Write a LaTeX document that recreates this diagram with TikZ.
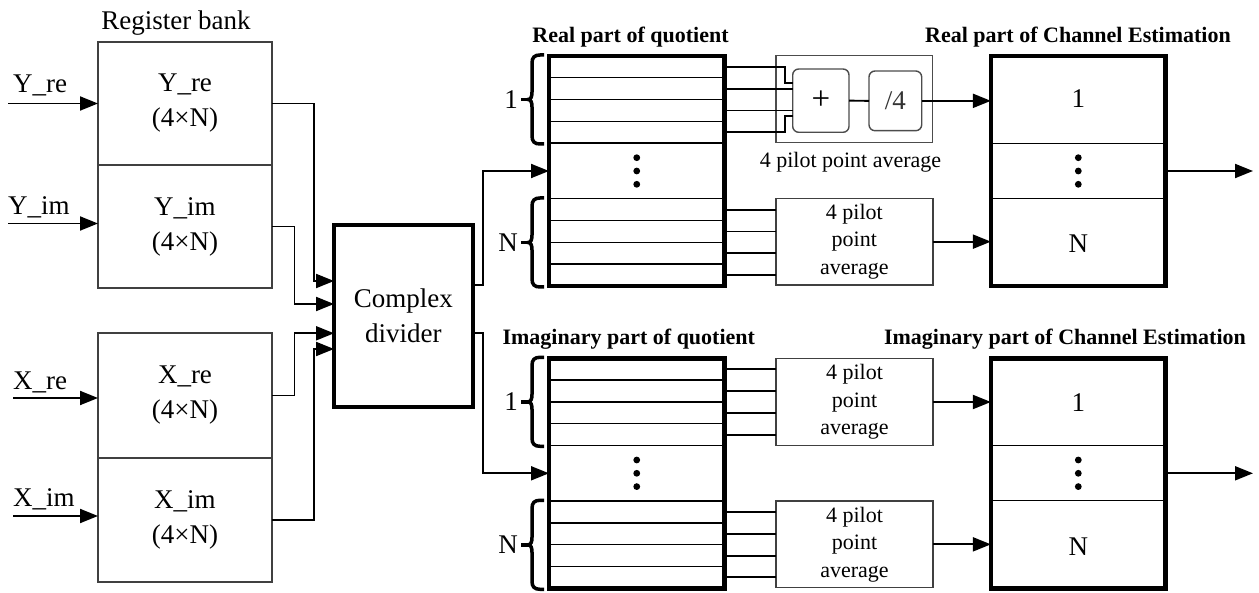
\documentclass[tikz,border=0pt]{standalone}
\usepackage{fontspec}
\setmainfont{Liberation Serif}
\usetikzlibrary{arrows.meta,calc}
\begin{document}
\begin{tikzpicture}[x=1pt,y=-1pt,
  big/.style={font=\fontsize{27}{35}\selectfont},
  small/.style={font=\fontsize{22}{27.5}\selectfont},
  ttl/.style={font=\fontsize{22}{26}\selectfont\bfseries},
  reg/.style={draw=black!75, line width=1.4pt, minimum width=174pt, align=center, big, inner sep=0pt, outer sep=0pt},
  thickbox/.style={draw, line width=4.5pt, outer sep=0pt, inner sep=0pt},
  conn/.style={line width=1.9pt},
  arr/.style={conn, -{Triangle[length=18pt,width=14pt]}},
  rowline/.style={line width=1.4pt},
  avg/.style={draw=black!75, line width=1.4pt, minimum width=157pt, align=center, small, inner sep=0pt, outer sep=0pt},
  rbox/.style={draw=black!70, line width=1.4pt, rounded corners=6pt, inner sep=0pt, outer sep=0pt, big},
  brc/.style={line width=3.5pt},
]
\useasboundingbox (0,0) rectangle (1259,593);

% ---------- register bank ----------
\node[big] (regt) at (176,23) {Register bank};
\node[reg, minimum height=123pt] (yre) at (185,103.5) {Y\_re\\(4×N)};
\node[reg, minimum height=123pt] (yim) at (185,226.5) {Y\_im\\(4×N)};
\node[reg, minimum height=125pt] (xre) at (185,395.5) {X\_re\\(4×N)};
\node[reg, minimum height=124pt] (xim) at (185,520) {X\_im\\(4×N)};

% input labels and arrows
\node[big, anchor=base west, inner sep=0pt] (lyre) at (13,93) {Y\_re};
\node[big, anchor=base west, inner sep=0pt] (lyim) at (8,215) {Y\_im};
\node[big, anchor=base west, inner sep=0pt] (lxre) at (13,390) {X\_re};
\node[big, anchor=base west, inner sep=0pt] (lxim) at (13,506.5) {X\_im};
\coordinate (yrein) at (8,103.5);
\coordinate (yimin) at (8,223.5);
\coordinate (xrein) at (13,398);
\coordinate (ximin) at (13,516);
\draw[arr] (yrein) -- (yrein -| yre.west);
\draw[arr] (yimin) -- (yimin -| yim.west);
\draw[arr] (xrein) -- (xrein -| xre.west);
\draw[arr] (ximin) -- (ximin -| xim.west);

% ---------- complex divider ----------
\node[draw, line width=3.5pt, minimum width=138.7pt, minimum height=182pt, big, align=center, outer sep=0pt, inner sep=0pt] (div) at (403.4,316) {Complex\\divider};
\draw[arr] (yre.east) -| (314,281) -- (div.west |- 0,281);
\draw[arr] (yim.east) -| (294.5,304) -- (div.west |- 0,304);
\draw[arr] (xre.east) -| (294.5,333.3) -- (div.west |- 0,333.3);
\draw[arr] (xim.east) -| (314,349) -- (div.west |- 0,349);

% ---------- quotient boxes ----------
\node[thickbox, minimum width=175.5pt, minimum height=230pt] (rq) at (636.75,171) {};
\node[thickbox, minimum width=175.5pt, minimum height=230pt] (iq) at (636.75,473.3) {};
\foreach \b in {rq,iq}{
  \foreach \k in {1,...,4}{
    \draw[rowline] ($(\b.north west)+(0,21.8*\k)$) -- ($(\b.north east)+(0,21.8*\k)$);
    \draw[rowline] ($(\b.south west)+(0,-21.8*\k)$) -- ($(\b.south east)+(0,-21.8*\k)$);
  }
  \foreach \d in {-13.3,0,13.3}{
    \fill ($(\b.center)+(0,\d)$) circle (3.4pt);
  }
}
\node[ttl] (rqt) at (630.5,37) {Real part of quotient};
\node[ttl] (iqt) at (628.8,339.5) {Imaginary part of quotient};

\draw[arr] (div.east |- 0,285) -| (483,171) -- (rq.west |- 0,171);
\draw[arr] (div.east |- 0,333) -| (483,473.3) -- (iq.west |- 0,473.3);

% braces
\foreach \t/\lab/\nm in {55/1/a, 198/N/b, 357.3/1/c, 500.3/N/d}{
  \begin{scope}[shift={(0,\t)}]
    \draw[brc] (544,0) -- (540,0) .. controls (534.5,0) and (532,2.5) .. (532,8) -- (532,37)
      .. controls (532,41.5) and (531,44.5) .. (528,44.5)
      .. controls (531,44.5) and (532,47.5) .. (532,52) -- (532,81)
      .. controls (532,86.5) and (534.5,89) .. (540,89) -- (544,89);
    \draw[brc] (521,44.5) -- (528.5,44.5);
    \node[big, anchor=east, inner sep=0pt] (brl\nm) at (518,44.5) {\lab};
  \end{scope}
}

% ---------- estimation boxes ----------
\node[thickbox, minimum width=174.8pt, minimum height=230pt] (re) at (1078.3,171) {};
\node[thickbox, minimum width=174.8pt, minimum height=230pt] (ie) at (1078.3,473.3) {};
\foreach \b in {re,ie}{
  \draw[rowline] ($(\b.north west)+(0,87.3)$) -- ($(\b.north east)+(0,87.3)$);
  \draw[rowline] ($(\b.south west)+(0,-87.5)$) -- ($(\b.south east)+(0,-87.5)$);
  \foreach \d in {-13.3,0,13.3}{
    \fill ($(\b.center)+(0,\d)$) circle (3.4pt);
  }
}
\node[big] (re1) at ($(re.north)+(0,42.5)$) {1};
\node[big] (reN) at ($(re.south)+(0,-42)$) {N};
\node[big] (ie1) at ($(ie.north)+(0,44)$) {1};
\node[big] (ieN) at ($(ie.south)+(0,-42)$) {N};
\node[ttl] (ret) at (1078,37) {Real part of Channel Estimation};
\node[ttl] (iet) at (1065,339.5) {Imaginary part of Channel Estimation};
\coordinate (reout) at (1253,171);
\coordinate (ieout) at (1253,473.3);
\draw[arr] (re.east) -- (reout);
\draw[arr] (ie.east) -- (ieout);

% ---------- real part: first group (+ and /4) ----------
\node[draw=black!70, line width=1.4pt, minimum width=156.7pt, minimum height=87pt, outer sep=0pt, inner sep=0pt] (grp) at (854.35,99.2) {};
\node[rbox, minimum width=56.3pt, minimum height=63.3pt, font=\fontsize{33}{35}\selectfont] (plus) at (820.85,100.65) {+};
\node[rbox, minimum width=52.7pt, minimum height=59.7pt, text=black!80] (dvf) at (895.35,100.85) {/4};
\node[small] (grl) at (850.5,162) {4 pilot point average};
\foreach \k in {1,...,4}{
  \coordinate (r\k) at ($(rq.north east)+(0,21.8*\k-10.9)$);
  \coordinate (rb\k) at ($(rq.south east)+(0,-21.8*\k+10.9)$);
  \coordinate (i\k) at ($(iq.north east)+(0,21.8*\k-10.9)$);
  \coordinate (ib\k) at ($(iq.south east)+(0,-21.8*\k+10.9)$);
}
\draw[conn] (r1) -| (785,83.3) -- (plus.west |- 0,83.3);
\draw[conn] (r2) -- (r2 -| plus.west);
\draw[conn] (r3) -- (r3 -| plus.west);
\draw[conn] (r4) -| (785,116) -- (plus.west |- 0,116);
\draw[conn] (plus.east) -- (dvf.west);
\draw[arr] (dvf.east) -- (dvf.east -| re.west);

% ---------- other averaging boxes ----------
\node[avg, minimum height=86.7pt] (ravg) at (854.35,241.65) {4 pilot\\point\\average};
\node[avg, minimum height=87.4pt] (iavg1) at (854.5,402) {4 pilot\\point\\average};
\node[avg, minimum height=86.7pt] (iavg2) at (854.5,544.35) {4 pilot\\point\\average};
\foreach \k in {1,...,4}{
  \draw[conn] (rb\k) -- (rb\k -| ravg.west);
  \draw[conn] (i\k) -- (i\k -| iavg1.west);
  \draw[conn] (ib\k) -- (ib\k -| iavg2.west);
}
\draw[arr] (ravg.east) -- (ravg.east -| re.west);
\draw[arr] (iavg1.east) -- (iavg1.east -| ie.west);
\draw[arr] (iavg2.east) -- (iavg2.east -| ie.west);
\end{tikzpicture}
\end{document}
